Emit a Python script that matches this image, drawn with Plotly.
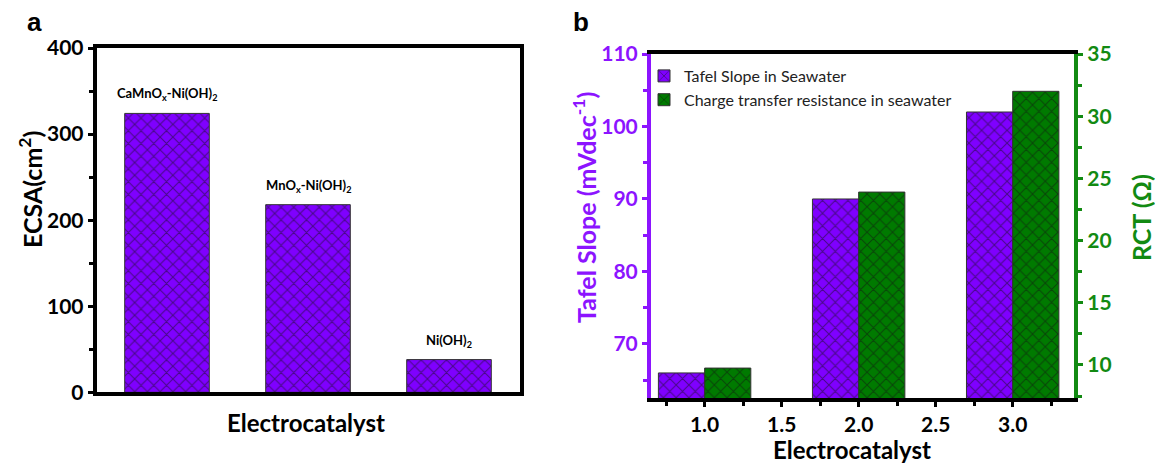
import plotly.graph_objects as go

# ---- data ----
ecsa_labels = ["CaMnO<sub>x</sub>-Ni(OH)<sub>2</sub>", "MnO<sub>x</sub>-Ni(OH)<sub>2</sub>", "Ni(OH)<sub>2</sub>"]
ecsa_pos = [0, 1, 2]
ecsa_values = [324, 218, 38]

b_x = [1, 2, 3]
tafel_values = [66, 90, 102]
rct_values = [9.75, 23.9, 32]

PURPLE = "#7f00ff"
PURPLE_AX = "#8c14ff"
GREEN = "#007a00"
GREEN_AX = "#128a12"
FONT = "Lato"
W, H = 1155, 464


def px(x):
    return x / W


def py(y):
    return 1 - y / H


fig = go.Figure()

pat = dict(shape="x", fgcolor="#111111", size=9, solidity=0.22)

fig.add_trace(go.Bar(x=ecsa_pos, y=ecsa_values, width=0.6,
                     marker=dict(color=PURPLE, pattern=pat, line=dict(color="#333", width=1)),
                     xaxis="x", yaxis="y", showlegend=False))

fig.add_trace(go.Bar(x=b_x, y=tafel_values, width=0.3, offset=-0.3, name="Tafel Slope in Seawater",
                     marker=dict(color=PURPLE, pattern=pat, line=dict(color="#333", width=1)),
                     xaxis="x2", yaxis="y2"))
fig.add_trace(go.Bar(x=b_x, y=rct_values, width=0.3, offset=0.0, name="Charge transfer resistance in seawater",
                     marker=dict(color=GREEN, pattern=pat, line=dict(color="#333", width=1)),
                     xaxis="x2", yaxis="y3"))

for xi, yi, lab in zip(ecsa_pos, ecsa_values, ecsa_labels):
    fig.add_annotation(x=xi, y=yi, xref="x", yref="y", text=lab, showarrow=False, yanchor="bottom",
                       yshift=8, font=dict(family=FONT, size=13, color="black", weight="bold"))

tick_font = dict(family=FONT, size=21, weight="bold")

fig.update_layout(
    width=W, height=H, margin=dict(l=0, r=0, t=0, b=0, autoexpand=False),
    paper_bgcolor="white", plot_bgcolor="white",
    barmode="overlay", font=dict(family=FONT, color="black"),
    xaxis=dict(domain=[px(96.5), px(519.5)], range=[-0.5, 2.5], showticklabels=False, ticks="",
               showline=True, linecolor="black", linewidth=3.5, mirror=True, showgrid=False, zeroline=False),
    yaxis=dict(domain=[py(392.3), py(48)], range=[0, 400], tickvals=[0, 100, 200, 300, 400],
               ticks="outside", ticklen=5, tickwidth=2.5, tickcolor="black",
               minor=dict(dtick=50, ticks="outside", ticklen=4, tickwidth=2.5, tickcolor="black"),
               showline=True, linecolor="black", linewidth=3.5, mirror=True, showgrid=False, zeroline=False,
               tickfont=tick_font),
    xaxis2=dict(domain=[px(650.7), px(1074.3)], range=[0.65, 3.40], anchor="y2", tickvals=[1, 1.5, 2, 2.5, 3],
                ticktext=["1.0", "1.5", "2.0", "2.5", "3.0"],
                ticks="outside", ticklen=5, tickwidth=2.5, tickcolor="black",
                minor=dict(dtick=0.25, tick0=0, ticks="outside", ticklen=4, tickwidth=2.5, tickcolor="black"),
                showline=True, linecolor="black", linewidth=3.5, mirror=True, showgrid=False, zeroline=False,
                tickfont=tick_font),
    yaxis2=dict(domain=[py(398.3), py(54)], range=[62.5, 110], anchor="x2", tickvals=[70, 80, 90, 100, 110],
                ticks="outside", ticklen=5, tickwidth=2.5, tickcolor=PURPLE_AX,
                minor=dict(dtick=5, tick0=0, ticks="outside", ticklen=4, tickwidth=2.5, tickcolor=PURPLE_AX),
                showline=True, linecolor=PURPLE_AX, linewidth=3.5, showgrid=False, zeroline=False,
                tickfont=dict(tick_font, color=PURPLE_AX)),
    yaxis3=dict(domain=[py(398.3), py(54)], range=[7.32, 35], anchor="x2", overlaying="y2", side="right",
                tickvals=[10, 15, 20, 25, 30, 35],
                ticks="outside", ticklen=5, tickwidth=2.5, tickcolor=GREEN_AX,
                minor=dict(dtick=2.5, tick0=0, ticks="outside", ticklen=4, tickwidth=2.5, tickcolor=GREEN_AX),
                showline=True, linecolor=GREEN_AX, linewidth=3.5, showgrid=False, zeroline=False,
                tickfont=dict(tick_font, color=GREEN_AX)),
    legend=dict(x=px(644), y=py(59), xanchor="left", yanchor="top", bgcolor="rgba(0,0,0,0)",
                font=dict(family=FONT, size=16, color="#222"), tracegroupgap=0, itemwidth=30),
)

title_font = dict(family=FONT, size=24, weight="bold", color="black")
ann = [
    dict(x=px(34), y=py(22), text="a", font=dict(family="Liberation Sans", size=26, weight="bold", color="black")),
    dict(x=px(581), y=py(22), text="b", font=dict(family="Liberation Sans", size=26, weight="bold", color="black")),
    dict(x=px(305.5), y=py(422), text="Electrocatalyst", font=title_font),
    dict(x=px(852), y=py(449), text="Electrocatalyst", font=title_font),
    dict(x=px(30), y=py(190), text="ECSA(cm<sup>2</sup>)", font=dict(title_font, size=25), textangle=-90),
    dict(x=px(584), y=py(208), text="Tafel Slope (mVdec<sup>-1</sup>)",
         font=dict(title_font, size=25, color=PURPLE_AX), textangle=-90),
    dict(x=px(1141), y=py(218), text="RCT (Ω)", font=dict(title_font, size=25, color=GREEN_AX), textangle=-90),
]
for a in ann:
    fig.add_annotation(xref="paper", yref="paper", showarrow=False, xanchor="center", yanchor="middle", **a)

fig.write_html("out.html")
